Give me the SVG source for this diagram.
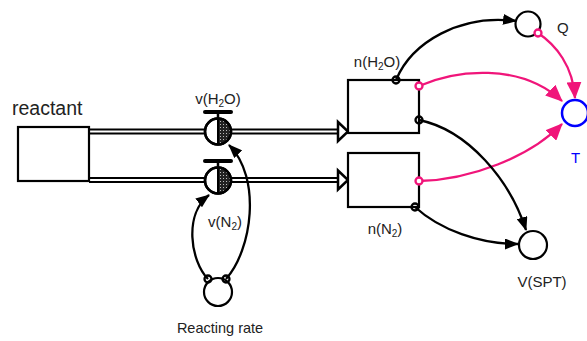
<svg xmlns="http://www.w3.org/2000/svg" width="587" height="341" viewBox="0 0 587 341">
<defs>
<style>
text{font-family:"Liberation Sans",Arial,sans-serif;fill:#222;font-size:15px}
.box{fill:#fff;stroke:#000;stroke-width:2.2}
.aux{fill:#fff;stroke:#000;stroke-width:2.2}
.conn{fill:none;stroke:#000;stroke-width:2.3}
.pink{fill:none;stroke:#f0157a;stroke-width:2.3}
.dot{fill:none;stroke:#000;stroke-width:2.3}
.pdot{fill:#fff;stroke:#f0157a;stroke-width:2.3}
.pipeo{stroke:#000;stroke-width:6;fill:none}
.pipei{stroke:#fff;stroke-width:2;fill:none}
</style>
<pattern id="hatch" width="3" height="3" patternUnits="userSpaceOnUse">
<rect width="3" height="3" fill="#222"/>
<rect x="1" y="1" width="1" height="1" fill="#bbb"/>
</pattern>
<marker id="ab" markerWidth="14" markerHeight="11" refX="13" refY="5.5" orient="auto" markerUnits="userSpaceOnUse">
<path d="M0,0 L14,5.5 L0,11 Z" fill="#000"/>
</marker>
<marker id="ap" markerWidth="17" markerHeight="15" refX="16" refY="7.5" orient="auto" markerUnits="userSpaceOnUse">
<path d="M0,0 L17,7.5 L0,15 Z" fill="#f0157a"/>
</marker>
</defs>

<g id="pipes">
<path class="pipeo" d="M89,131.5 H339"/>
<path class="pipei" d="M89,131.5 H340"/>
<path d="M338,122 L348,131.5 L338,141 Z" fill="#fff" stroke="#000" stroke-width="2.5"/>
<path class="pipeo" d="M89,180 H339"/>
<path class="pipei" d="M89,180 H340"/>
<path d="M338,170.5 L348,180 L338,189.5 Z" fill="#fff" stroke="#000" stroke-width="2.5"/>
</g>

<g id="reactant">
<rect class="box" x="18" y="127" width="71" height="54"/>
<text x="12" y="115" style="font-size:19.5px">reactant</text>
</g>

<g id="v_H2O">
<line x1="205" y1="112" x2="231" y2="112" stroke="#000" stroke-width="4" stroke-linecap="round"/>
<line x1="218" y1="112" x2="218" y2="119" stroke="#000" stroke-width="2.5"/>
<circle cx="218" cy="131.5" r="13" fill="#fff" stroke="#000" stroke-width="2.5"/>
<path d="M219,119.5 A12,12 0 0 1 219,143.5 Z" fill="url(#hatch)"/>
<line x1="218" y1="118.5" x2="218" y2="144.5" stroke="#000" stroke-width="2"/>
<circle cx="218" cy="131.5" r="13" fill="none" stroke="#000" stroke-width="2.5"/>
<text x="218" y="104" text-anchor="middle">v(H<tspan font-size="10" dy="3">2</tspan><tspan dy="-3">O)</tspan></text>
</g>

<g id="v_N2">
<line x1="205" y1="161" x2="231" y2="161" stroke="#000" stroke-width="4" stroke-linecap="round"/>
<line x1="218" y1="161" x2="218" y2="168" stroke="#000" stroke-width="2.5"/>
<circle cx="218" cy="180.5" r="13" fill="#fff" stroke="#000" stroke-width="2.5"/>
<path d="M219,168.5 A12,12 0 0 1 219,192.5 Z" fill="url(#hatch)"/>
<line x1="218" y1="167.5" x2="218" y2="193.5" stroke="#000" stroke-width="2"/>
<circle cx="218" cy="180.5" r="13" fill="none" stroke="#000" stroke-width="2.5"/>
<text x="225" y="227" text-anchor="middle">v(N<tspan font-size="10" dy="3">2</tspan><tspan dy="-3">)</tspan></text>
</g>

<g id="n_H2O">
<rect class="box" x="348" y="80" width="71" height="53"/>
<text x="377" y="67" text-anchor="middle">n(H<tspan font-size="10" dy="3">2</tspan><tspan dy="-3">O)</tspan></text>
</g>

<g id="n_N2">
<rect class="box" x="348" y="153" width="71" height="54"/>
<text x="385" y="234" text-anchor="middle">n(N<tspan font-size="10" dy="3">2</tspan><tspan dy="-3">)</tspan></text>
</g>

<g id="Q">
<circle class="aux" cx="528" cy="24" r="12.5"/>
<text x="557" y="33">Q</text>
</g>

<g id="T">
<circle cx="575" cy="113" r="13" fill="#fff" stroke="#0000ff" stroke-width="2.5"/>
<text x="571" y="163" style="fill:#0000ff">T</text>
</g>

<g id="V_SPT">
<circle class="aux" cx="533" cy="245" r="14"/>
<text x="542" y="287" text-anchor="middle">V(SPT)</text>
</g>

<g id="reacting_rate">
<circle class="aux" cx="218" cy="292" r="14"/>
<text x="220" y="333" text-anchor="middle" style="font-size:14.5px">Reacting rate</text>
</g>

<g id="connectors">
<path class="conn" d="M396,80 C412,42 460,14 516,21" marker-end="url(#ab)"/>
<path class="pink" d="M419,86 C455,70 520,62 562,101" marker-end="url(#ap)"/>
<path class="pink" d="M538,33 C556,45 573,66 575,98" marker-end="url(#ap)"/>
<path class="pink" d="M419,181 C470,180 530,157 562,124" marker-end="url(#ap)"/>
<path class="conn" d="M419,120 C468,130 510,180 526,230" marker-end="url(#ab)"/>
<path class="conn" d="M415,207 C440,230 480,244 518,244" marker-end="url(#ab)"/>
<path class="conn" d="M208,279 C190,260 184,214 209,195" marker-end="url(#ab)"/>
<path class="conn" d="M226,279 C252,250 262,178 229,145" marker-end="url(#ab)"/>
<circle class="dot" cx="396" cy="80" r="3.5"/>
<circle class="pdot" cx="419" cy="86" r="3.5"/>
<circle class="dot" cx="419" cy="120" r="3.5"/>
<circle class="pdot" cx="419" cy="181" r="3.5"/>
<circle class="dot" cx="415" cy="207" r="3.5"/>
<circle class="pdot" cx="538" cy="33" r="3.5"/>
<circle class="dot" cx="208" cy="279" r="3.5"/>
<circle class="dot" cx="226" cy="279" r="3.5"/>
</g>
</svg>
